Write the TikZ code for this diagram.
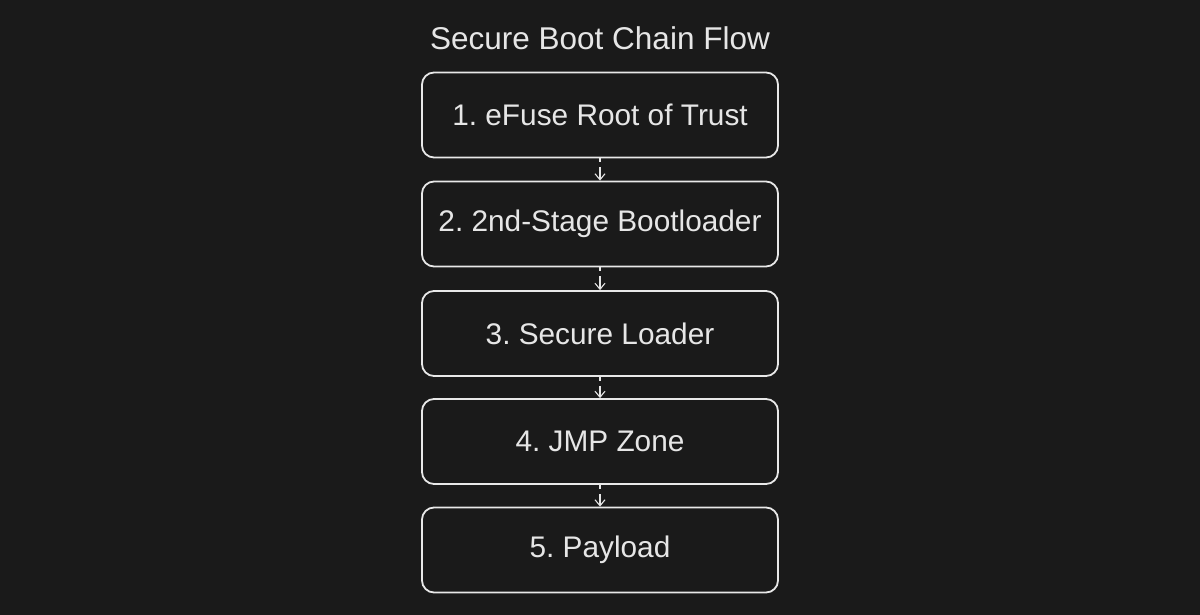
\documentclass[tikz,border=0pt]{standalone}
\usepackage{fontspec}
\setmainfont{Liberation Sans}
\usetikzlibrary{arrows.meta}
\definecolor{bg}{HTML}{1A1A1A}
\definecolor{fg}{HTML}{E6E6E6}
\definecolor{edge}{HTML}{E8E8E8}
\begin{document}
\frenchspacing
\begin{tikzpicture}[x=1pt,y=-1pt,
  stagebox/.style={draw=edge, line width=1.8pt, rounded corners=12pt, fill=bg,
    minimum width=356pt, minimum height=85pt, inner sep=0pt,
    text=fg, font=\fontsize{29.8}{34}\selectfont},
  flowarrow/.style={draw=fg, line width=1.1pt, dash pattern=on 4pt off 5pt on 40pt off 0pt,
    -{Straight Barb[length=6pt,width=10pt,line width=1.1pt]}},
  titletext/.style={text=fg, font=\fontsize{31.5}{36}\selectfont, inner sep=0pt}]
\fill[bg] (0,0) rectangle (1200,615);
\useasboundingbox (0,0) rectangle (1200,615);
\node[titletext] (title) at (600,38) {Secure Boot Chain Flow};
\node[stagebox] (s1) at (600,115) {1. eFuse Root of Trust};
\node[stagebox] (s2) at (600,224) {2. 2nd-Stage Bootloader};
\node[stagebox] (s3) at (600,333.5) {3. Secure Loader};
\node[stagebox] (s4) at (600,441.5) {4. JMP Zone};
\node[stagebox] (s5) at (600,550) {5. Payload};
\draw[flowarrow] (s1.south) -- (s2.north);
\draw[flowarrow] (s2.south) -- (s3.north);
\draw[flowarrow] (s3.south) -- (s4.north);
\draw[flowarrow] (s4.south) -- (s5.north);
\end{tikzpicture}
\end{document}
